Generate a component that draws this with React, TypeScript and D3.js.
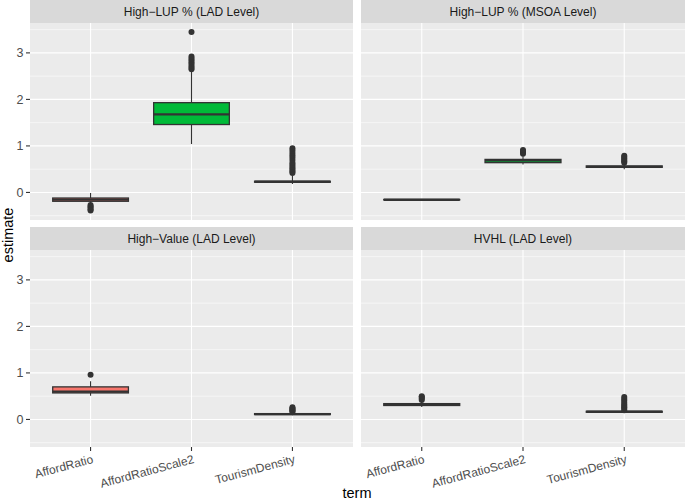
import React from "react";
import * as d3 from "d3";

const panelTitles = [
  "High−LUP % (LAD Level)",
  "High−LUP % (MSOA Level)",
  "High−Value (LAD Level)",
  "HVHL (LAD Level)",
];
const terms = ["AffordRatio", "AffordRatioScale2", "TourismDensity"];
const termColors = ["#F8766D", "#00BA38", "#619CFF"];
const yTicks = [0, 1, 2, 3];
const yMinorTicks = [-0.5, 0.5, 1.5, 2.5, 3.5];
const yDomain = [-0.5925, 3.6425];

// box stats per term: [lower whisker, q1, median, q3, upper whisker]; null = no estimates
const lupLadBoxes = [
  [-0.24, -0.19, -0.155, -0.12, -0.01],
  [1.04, 1.46, 1.68, 1.93, 2.62],
  [0.18, 0.22, 0.23, 0.24, 0.36],
];
const lupLadOutliers = [
  [-0.27, -0.3, -0.33, -0.36, -0.39],
  [2.65, 2.68, 2.72, 2.76, 2.8, 2.84, 2.88, 2.92, 3.45],
  [0.42, 0.45, 0.48, 0.52, 0.56, 0.6, 0.64, 0.7, 0.75, 0.8, 0.85, 0.9, 0.95],
];
const lupMsoaBoxes = [
  [-0.165, -0.16, -0.157, -0.152, -0.15],
  [0.6, 0.64, 0.69, 0.71, 0.78],
  [0.5, 0.54, 0.55, 0.57, 0.62],
];
const lupMsoaOutliers = [
  [],
  [0.83, 0.86, 0.88, 0.91],
  [0.64, 0.67, 0.7, 0.73, 0.76, 0.79],
];
const valueLadBoxes = [
  [0.51, 0.57, 0.6, 0.7, 0.82],
  null,
  [0.09, 0.105, 0.115, 0.125, 0.14],
];
const valueLadOutliers = [
  [0.96],
  [],
  [0.16, 0.18, 0.2, 0.22, 0.24, 0.26],
];
const hvhlLadBoxes = [
  [0.27, 0.3, 0.32, 0.34, 0.4],
  null,
  [0.14, 0.155, 0.165, 0.175, 0.19],
];
const hvhlLadOutliers = [
  [0.42, 0.45, 0.48, 0.5],
  [],
  [0.2, 0.23, 0.26, 0.29, 0.32, 0.36, 0.4, 0.44, 0.48],
];

const panelBoxes = [lupLadBoxes, lupMsoaBoxes, valueLadBoxes, hvhlLadBoxes];
const panelOutliers = [lupLadOutliers, lupMsoaOutliers, valueLadOutliers, hvhlLadOutliers];

const W = 685;
const H = 502;
const FONT = "'Liberation Sans', Arial, Helvetica, sans-serif";
const colX = [
  [30, 353],
  [361, 685],
];
const rowY = [
  [0, 23, 220],
  [227, 250, 447],
];

function Panel({ idx }: { idx: number }) {
  const col = idx % 2;
  const row = Math.floor(idx / 2);
  const [x0, x1] = colX[col];
  const [s0, y0, y1] = rowY[row];
  const x = d3.scalePoint<string>().domain(terms).range([x0, x1]).padding(0.6);
  const y = d3.scaleLinear().domain(yDomain).range([y1, y0]);
  const bw = x.step() * 0.75;
  const boxes = panelBoxes[idx];
  const outs = panelOutliers[idx];
  const dark = "#333333";
  return (
    <g>
      <rect x={x0} y={s0} width={x1 - x0} height={y0 - s0} fill="#D9D9D9" />
      <text
        x={(x0 + x1) / 2}
        y={(s0 + y0) / 2}
        dy="0.36em"
        textAnchor="middle"
        fontSize={12}
        fill="#1A1A1A"
        fontFamily={FONT}
      >
        {panelTitles[idx]}
      </text>
      <rect x={x0} y={y0} width={x1 - x0} height={y1 - y0} fill="#EBEBEB" />
      {yMinorTicks.map((t) => (
        <line key={"m" + t} x1={x0} x2={x1} y1={y(t)} y2={y(t)} stroke="#fff" strokeWidth={0.55} />
      ))}
      {yTicks.map((t) => (
        <line key={"M" + t} x1={x0} x2={x1} y1={y(t)} y2={y(t)} stroke="#fff" strokeWidth={1.1} />
      ))}
      {terms.map((t) => (
        <line key={"v" + t} x1={x(t)} x2={x(t)} y1={y0} y2={y1} stroke="#fff" strokeWidth={1.1} />
      ))}
      {terms.map((t, i) => {
        const b = boxes[i];
        if (!b) return null;
        const cx = x(t) as number;
        return (
          <g key={"b" + t}>
            <line x1={cx} x2={cx} y1={y(b[0])} y2={y(b[1])} stroke={dark} strokeWidth={1.1} />
            <line x1={cx} x2={cx} y1={y(b[3])} y2={y(b[4])} stroke={dark} strokeWidth={1.1} />
            <rect
              x={cx - bw / 2}
              y={y(b[3])}
              width={bw}
              height={Math.max(0, y(b[1]) - y(b[3]))}
              fill={termColors[i]}
              stroke={dark}
              strokeWidth={1.3}
            />
            <line x1={cx - bw / 2} x2={cx + bw / 2} y1={y(b[2])} y2={y(b[2])} stroke={dark} strokeWidth={2.3} />
          </g>
        );
      })}
      {terms.map((t, i) =>
        outs[i].map((v, j) => (
          <circle key={"o" + t + j} cx={x(t) as number} cy={y(v)} r={3} fill={dark} />
        ))
      )}
      {col === 0 &&
        yTicks.map((t) => (
          <g key={"yt" + t}>
            <line x1={26} x2={x0} y1={y(t)} y2={y(t)} stroke={dark} strokeWidth={1.1} />
            <text
              x={23.5}
              y={y(t)}
              dy="0.36em"
              textAnchor="end"
              fontSize={12.5}
              fill="#4D4D4D"
              fontFamily={FONT}
            >
              {t}
            </text>
          </g>
        ))}
      {row === 1 &&
        terms.map((t) => (
          <g key={"xt" + t}>
            <line x1={x(t)} x2={x(t)} y1={y1} y2={y1 + 4} stroke={dark} strokeWidth={1.1} />
            <text
              transform={`translate(${(x(t) as number) + 1},${y1 + 7}) rotate(-15)`}
              dy="0.75em"
              textAnchor="end"
              fontSize={12}
              fill="#4D4D4D"
              fontFamily={FONT}
            >
              {t}
            </text>
          </g>
        ))}
    </g>
  );
}

export default function App() {
  return (
    <svg
      width={W}
      height={H}
      style={{ position: "absolute", left: 0, top: 0, background: "#fff" }}
    >
      <rect x={0} y={0} width={W} height={H} fill="#fff" />
      {[0, 1, 2, 3].map((i) => (
        <Panel key={i} idx={i} />
      ))}
      <text
        transform={`translate(12.5,235) rotate(-90)`}
        textAnchor="middle"
        fontSize={14.5}
        fill="#000"
        fontFamily={FONT}
      >
        estimate
      </text>
      <text x={357} y={498} textAnchor="middle" fontSize={14.5} fill="#000" fontFamily={FONT}>
        term
      </text>
    </svg>
  );
}
